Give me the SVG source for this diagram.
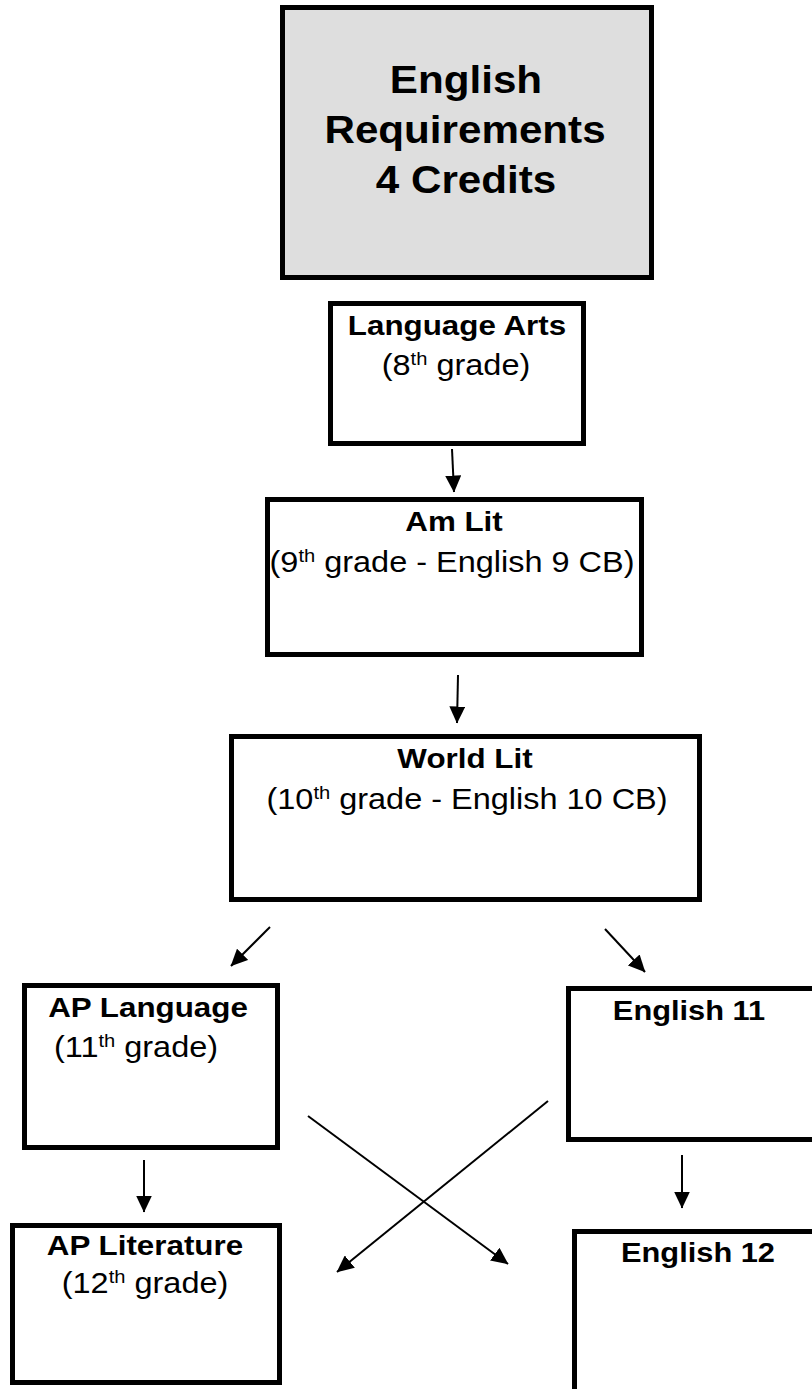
<svg xmlns="http://www.w3.org/2000/svg" width="812" height="1389" viewBox="0 0 812 1389">
<style>
.box{fill:#ffffff;stroke:#000000;stroke-width:5}
.title{fill:#dedede}
text{font-family:"Liberation Sans",Arial,sans-serif;fill:#000000;text-anchor:middle}
.t{font-size:38px;font-weight:bold}
.b{font-size:28px;font-weight:bold}
.r{font-size:29px}
.sup{font-size:18px}
.conn{stroke:#000000;stroke-width:2;fill:none;marker-end:url(#ah)}
</style>
<defs>
<marker id="ah" markerUnits="userSpaceOnUse" markerWidth="17" markerHeight="16" refX="16.5" refY="8" orient="auto">
<path d="M0,0 L17,8 L0,16 Z" fill="#000000"/>
</marker>
</defs>
<rect width="812" height="1389" fill="#ffffff"/>

<g id="node-title">
<rect class="box title" x="282.5" y="7.5" width="369" height="270"/>
<text class="t" transform="translate(466,93) scale(1.11,1)">English</text>
<text class="t" transform="translate(465,143) scale(1.11,1)">Requirements</text>
<text class="t" transform="translate(466,193) scale(1.11,1)">4 Credits</text>
</g>

<g id="node-language-arts">
<rect class="box" x="330.5" y="303.5" width="253" height="140"/>
<text class="b" transform="translate(457,335) scale(1.12,1)">Language Arts</text>
<text class="r" transform="translate(456,375) scale(1.12,1)">(8<tspan class="sup" dy="-10">th</tspan><tspan dy="10"> grade)</tspan></text>
</g>

<g id="node-am-lit">
<rect class="box" x="267.5" y="499.5" width="374" height="155"/>
<text class="b" transform="translate(454,531) scale(1.12,1)">Am Lit</text>
<text class="r" transform="translate(452,572) scale(1.12,1)">(9<tspan class="sup" dy="-10">th</tspan><tspan dy="10"> grade - English 9 CB)</tspan></text>
</g>

<g id="node-world-lit">
<rect class="box" x="231.5" y="736.5" width="468" height="163"/>
<text class="b" transform="translate(465,768) scale(1.12,1)">World Lit</text>
<text class="r" transform="translate(467,809) scale(1.12,1)">(10<tspan class="sup" dy="-10">th</tspan><tspan dy="10"> grade - English 10 CB)</tspan></text>
</g>

<g id="node-ap-language">
<rect class="box" x="24.5" y="985.5" width="253" height="162"/>
<text class="b" transform="translate(148,1017) scale(1.12,1)">AP Language</text>
<text class="r" transform="translate(136,1057) scale(1.12,1)">(11<tspan class="sup" dy="-10">th</tspan><tspan dy="10"> grade)</tspan></text>
</g>

<g id="node-english-11">
<rect class="box" x="568.5" y="988.5" width="260" height="151"/>
<text class="b" transform="translate(689,1020) scale(1.1,1)">English 11</text>
</g>

<g id="node-ap-literature">
<rect class="box" x="12.5" y="1225.5" width="267" height="157"/>
<text class="b" transform="translate(145,1255) scale(1.12,1)">AP Literature</text>
<text class="r" transform="translate(145,1293) scale(1.12,1)">(12<tspan class="sup" dy="-10">th</tspan><tspan dy="10"> grade)</tspan></text>
</g>

<g id="node-english-12">
<rect class="box" x="574.5" y="1231.5" width="260" height="200"/>
<text class="b" transform="translate(698,1262) scale(1.1,1)">English 12</text>
</g>

<g id="connectors">
<line class="conn" x1="452" y1="449" x2="454" y2="492"/>
<line class="conn" x1="458" y1="675" x2="457" y2="723"/>
<line class="conn" x1="270" y1="927" x2="231" y2="966"/>
<line class="conn" x1="605" y1="929" x2="645" y2="972"/>
<line class="conn" x1="144" y1="1160" x2="144" y2="1212"/>
<line class="conn" x1="682" y1="1155" x2="682" y2="1208"/>
<line class="conn" x1="308" y1="1116" x2="508" y2="1264"/>
<line class="conn" x1="548" y1="1101" x2="337" y2="1272"/>
</g>
</svg>
